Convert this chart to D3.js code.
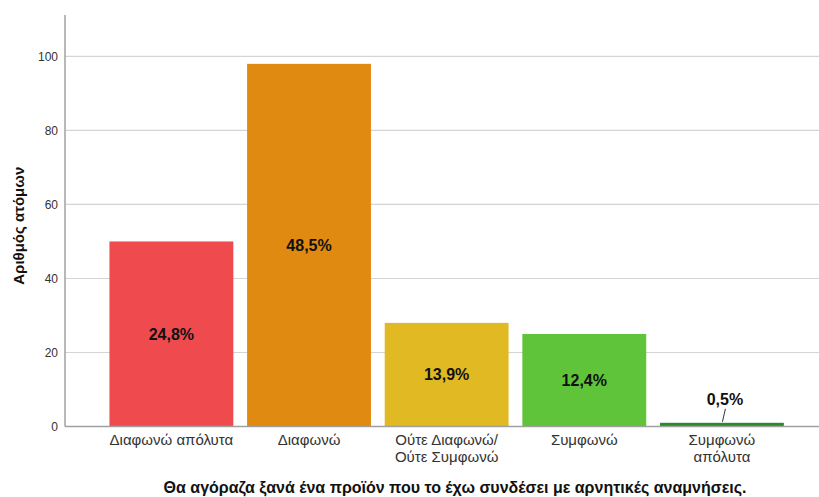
<!DOCTYPE html>
<html><head><meta charset="utf-8">
<script src="https://cdn.jsdelivr.net/npm/d3@7"></script>
<style>body{margin:0;background:#fff;}svg{display:block;font-family:"Liberation Sans",Arial,sans-serif;}</style>
</head><body>
<svg id="c" width="819" height="497"></svg>
<script>
const categories = [["Διαφωνώ απόλυτα"],["Διαφωνώ"],["Ούτε Διαφωνώ/","Ούτε Συμφωνώ"],["Συμφωνώ"],["Συμφωνώ","απόλυτα"]];
const counts = [50, 98, 28, 25, 1];
const percentLabels = ["24,8%", "48,5%", "13,9%", "12,4%", "0,5%"];
const colors = ["#ef4b4f", "#e08a12", "#e1b922", "#5fc43a", "#2b8a2b"];
const yTicks = [0, 20, 40, 60, 80, 100];
const yTitle = "Αριθμός ατόμων";
const xTitle = "Θα αγόραζα ξανά ένα προϊόν που το έχω συνδέσει με αρνητικές αναμνήσεις.";

const svg = d3.select("#c");
const W = 819;
const x0 = 65, yBottom = 426.5, yTop = 15;
const y = d3.scaleLinear().domain([0, 111.2]).range([yBottom, yTop]);
const idx = categories.map((d,i)=>i);
const x = d3.scaleBand().domain(idx).range([x0, 828.3]).paddingInner(0.1).paddingOuter(0.323);

// gridlines
svg.append("g").selectAll("line").data(yTicks.filter(d=>d>0)).join("line")
  .attr("x1", x0).attr("x2", W).attr("y1", d=>y(d)).attr("y2", d=>y(d))
  .attr("stroke", "#d4d4d4").attr("stroke-width", 1.2);

// y tick labels
svg.append("g").selectAll("text").data(yTicks).join("text")
  .attr("x", 58).attr("y", d=>y(d)).attr("dy", "0.35em").attr("text-anchor","end")
  .attr("font-size", 12).attr("fill", "#333").text(d=>d);

// bars
svg.append("g").selectAll("rect").data(counts).join("rect")
  .attr("x", (d,i)=>x(i)).attr("width", x.bandwidth())
  .attr("y", d=>y(d)).attr("height", d=>yBottom - y(d))
  .attr("fill", (d,i)=>colors[i]);

// axes lines
svg.append("line").attr("x1", x0).attr("x2", x0).attr("y1", yTop).attr("y2", yBottom)
  .attr("stroke", "#a0a0a0").attr("stroke-width", 1.5);
svg.append("line").attr("x1", x0).attr("x2", W).attr("y1", yBottom).attr("y2", yBottom)
  .attr("stroke", "#a0a0a0").attr("stroke-width", 1.5);

// percent labels
const lbl = svg.append("g");
counts.forEach((c,i)=>{
  const cx = x(i) + x.bandwidth()/2;
  if (c > 5) {
    lbl.append("text").attr("x", cx).attr("y", (y(c)+yBottom)/2).attr("dy","0.35em")
      .attr("text-anchor","middle").attr("font-size", 16).attr("font-weight","bold")
      .attr("fill","#111").text(percentLabels[i]);
  } else {
    lbl.append("text").attr("x", cx + 3).attr("y", y(c) - 23).attr("dy","0.35em")
      .attr("text-anchor","middle").attr("font-size", 16).attr("font-weight","bold")
      .attr("fill","#111").text(percentLabels[i]);
    lbl.append("line").attr("x1", cx + 3.5).attr("y1", y(c) - 14).attr("x2", cx + 0.5).attr("y2", y(c) - 1)
      .attr("stroke","#333").attr("stroke-width",1);
  }
});

// category labels
const cg = svg.append("g");
categories.forEach((lines,i)=>{
  const t = cg.append("text").attr("x", x(i)+x.bandwidth()/2).attr("y", 445)
    .attr("text-anchor","middle").attr("font-size", 15).attr("fill","#333");
  lines.forEach((s,j)=>t.append("tspan").attr("x", x(i)+x.bandwidth()/2).attr("dy", j===0?0:17).text(s));
});

// titles
svg.append("text").attr("transform", `translate(24,${(yTop+yBottom)/2+5}) rotate(-90)`)
  .attr("text-anchor","middle").attr("font-size", 15).attr("font-weight","bold").attr("fill","#111").text(yTitle);
svg.append("text").attr("x", 455).attr("y", 492.5).attr("text-anchor","middle")
  .attr("font-size", 16).attr("font-weight","bold").attr("fill","#111").text(xTitle);
</script>
</body></html>
